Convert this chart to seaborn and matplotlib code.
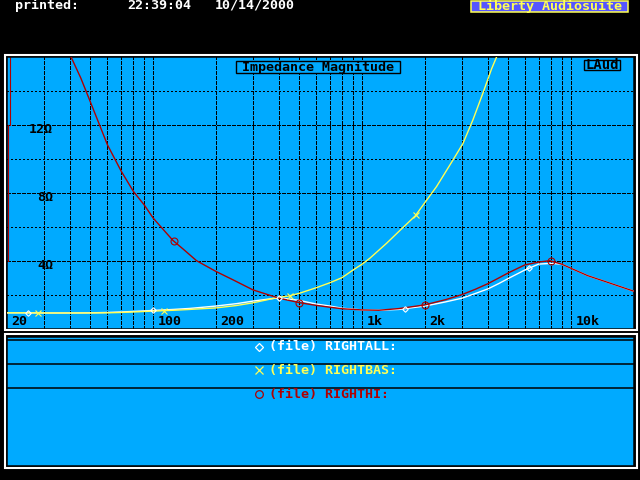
import numpy as np
import pandas as pd
import matplotlib
matplotlib.use('Agg')
import matplotlib.pyplot as plt
from matplotlib.patches import Rectangle
from matplotlib.ticker import NullLocator
import seaborn as sns

# impedance curves (Hz, ohms)
rightall_hz = [20, 25, 30, 40, 50, 60, 70, 80, 100, 125, 150, 200, 250, 300, 400, 500,
               600, 700, 800, 1000, 1200, 1500, 2000, 2500, 3000, 3500, 4000, 4500, 5000,
               6000, 7000, 8000, 9000, 10000, 12000, 15000, 20000]
rightall_ohm = [0.93, 0.93, 0.92, 0.92, 0.93, 0.95, 0.98, 1.01, 1.07, 1.13, 1.19, 1.33, 1.47, 1.62, 1.82, 1.66,
                1.45, 1.33, 1.2, 1.1, 1.08, 1.13, 1.33, 1.57, 1.79, 2.08, 2.34, 2.65, 2.95,
                3.45, 3.8, 3.84, 3.8, 3.55, 3.12, 2.72, 2.2]

rightbas_hz = [20, 25, 30, 40, 50, 60, 70, 80, 100, 125, 150, 200, 250, 300, 400, 445, 500,
               600, 700, 800, 906, 1000, 1089, 1309, 1500, 1794, 2000, 2270, 2725, 3034,
               3389, 3790, 4161, 4410, 4600]
rightbas_ohm = [0.93, 0.93, 0.92, 0.92, 0.92, 0.93, 0.95, 0.98, 1.03, 1.08, 1.13, 1.22, 1.36, 1.52, 1.85, 1.92, 2.08,
                2.4, 2.7, 3.0, 3.46, 3.8, 4.15, 5.03, 5.73, 6.64, 7.44, 8.37, 9.95, 10.9,
                12.3, 13.9, 15.3, 16.04, 16.6]

righthi_hz = [40.4, 45, 49.8, 60.3, 70, 80.3, 90.4, 100, 124, 140, 161, 200, 241, 300, 400, 500,
              600, 700, 800, 1000, 1200, 1500, 1980, 2500, 3000, 3500, 4000, 4500, 5000,
              6000, 7000, 7900, 9000, 10000, 12000, 15000, 20000]
righthi_ohm = [16.0, 14.75, 13.4, 10.83, 9.3, 8.08, 7.29, 6.5, 5.2, 4.65, 4.0, 3.36, 2.87, 2.28, 1.79, 1.53,
               1.37, 1.26, 1.17, 1.1, 1.08, 1.18, 1.39, 1.7, 2.0, 2.33, 2.65, 2.98, 3.28,
               3.75, 3.92, 4.0, 3.8, 3.55, 3.12, 2.72, 2.2]

series_names = ['RIGHTALL', 'RIGHTBAS', 'RIGHTHI']
series_colors = ['#FFFFFF', '#FFFF55', '#B00000']
series_markers = ['D', 'x', 'o']
marker_size = [2.8, 5, 5]
marker_hz = [[25, 100, 400, 1600, 6300], [28, 112, 450, 1800], [125, 500, 2000, 8000]]

x_tick_hz = [20, 100, 200, 1000, 2000, 10000]
x_tick_labels = ['20', '100', '200', '1k', '2k', '10k']
y_tick_ohm = [4, 8, 12]
y_tick_labels = ['4Ω', '8Ω', '12Ω']

BLUE = '#00AAFF'
FONT = 'DejaVu Sans Mono'
FS = 9.6
plt.rcParams['lines.scale_dashes'] = False

W, H = 640, 480
def fx(px):
    return px / W
def fy(py):
    return 1 - py / H

fig = plt.figure(figsize=(6.4, 4.8), dpi=100, facecolor='black')

# ---- main plot ----
ax = fig.add_axes([fx(7.3), fy(328.6), (634 - 7.3) / W, (328.6 - 57) / H])
ax.set_facecolor(BLUE)
ax.set_xscale('log')

vgrid = [m * d for d in (10, 100, 1000) for m in range(3 if d == 10 else 2, 10)] + [100, 1000, 10000]
for f in vgrid:
    ax.axvline(f, color='black', lw=0.9, dashes=(2.2, 1.4), antialiased=False, zorder=1)
for v in [2, 6, 10, 14]:
    ax.axhline(v, color='black', lw=0.9, dashes=(0.75, 1.6), antialiased=False, zorder=1)
for v in [4, 8, 12]:
    ax.axhline(v, color='black', lw=0.9, dashes=(2.2, 0.75), antialiased=False, zorder=1)

all_hz = [rightall_hz, rightbas_hz, righthi_hz]
all_ohm = [rightall_ohm, rightbas_ohm, righthi_ohm]
df = pd.concat([pd.DataFrame({'freq': h, 'ohm': o, 'series': n})
                for h, o, n in zip(all_hz, all_ohm, series_names)], ignore_index=True)
sns.lineplot(data=df, x='freq', y='ohm', hue='series', hue_order=series_names,
             palette=dict(zip(series_names, series_colors)), estimator=None,
             linewidth=1.0, legend=False, ax=ax, zorder=3)

for h, o, col, mk, ms, mf in zip(all_hz, all_ohm, series_colors, series_markers, marker_size, marker_hz):
    my = np.interp(np.log10(mf), np.log10(h), o)
    ax.plot(mf, my, ls='none', marker=mk, ms=ms, mfc='none', mec=col, mew=0.8, zorder=4)

# odd red bar on the left edge of the screen
ax.axvline(20.5, ymin=0.75, ymax=1.0, color='#B00000', lw=0.8, zorder=2)
ax.axvline(20.15, ymin=0.25, ymax=0.75, color='#B00000', lw=0.8, zorder=2)

ax.set_xlim(20, 20000)
ax.set_ylim(0, 16)
ax.xaxis.set_minor_locator(NullLocator())
ax.set_xticks([])
ax.set_yticks([])
ax.set_xlabel('')
ax.set_ylabel('')
for s in ax.spines.values():
    s.set_color('black')
    s.set_linewidth(1.1)

for f, lab in zip(x_tick_hz, x_tick_labels):
    ax.annotate(lab, xy=(f, 0), xytext=(3.2, 5.2), textcoords='offset points',
                ha='left', va='center', fontsize=FS, fontweight='bold', family=FONT,
                color='black', zorder=5)
for v, lab in zip(y_tick_ohm, y_tick_labels):
    ax.annotate(lab, xy=(0.073, v), xycoords=ax.get_yaxis_transform(),
                xytext=(0, -3.2), textcoords='offset points',
                ha='right', va='center', fontsize=FS, fontweight='bold', family=FONT,
                color='black', zorder=5)

# title boxes inside the plot (filled, they hide the grid)
fig.add_artist(Rectangle((fx(236), fy(72.7)), (400.5 - 236) / W, (72.7 - 61.3) / H,
                         transform=fig.transFigure, fc=BLUE, ec='black', lw=1.0))
fig.text(fx(318.3), fy(67.2), 'Impedance Magnitude', ha='center', va='center',
         fontsize=FS, fontweight='bold', family=FONT, color='black')
fig.add_artist(Rectangle((fx(584), fy(70.3)), 36 / W, 10.3 / H,
                         transform=fig.transFigure, fc=BLUE, ec='black', lw=1.0))
fig.text(fx(602), fy(65.3), 'LAud', ha='center', va='center',
         fontsize=FS + 0.4, fontweight='bold', family=FONT, color='black')

# ---- legend panel ----
lg = fig.add_axes([fx(7.3), fy(465.5), (634 - 7.3) / W, (465.5 - 337) / H])
lg.set_facecolor(BLUE)
lg.set_xlim(0, W)
lg.set_ylim(465.5, 337)
lg.set_xticks([])
lg.set_yticks([])
for s in lg.spines.values():
    s.set_color('black')
    s.set_linewidth(1.1)
for yy in [340.3, 364.3, 388.3]:
    lg.axhline(yy, color='black', lw=1.1)
for yy, name, col, mk in zip([346.7, 370.3, 394.3], series_names, series_colors, series_markers):
    lg.plot([257.5], [yy], ls='none', marker=mk, ms=3.7 if mk == 'D' else 5.5,
            mfc='none', mec=col, mew=0.9)
    lg.text(267.7, yy, f'(file) {name}:', ha='left', va='center', fontsize=FS,
            fontweight='bold', family=FONT, color=col)

# white outer frames
fig.add_artist(Rectangle((fx(5), fy(330.2)), 632 / W, (330.2 - 55) / H,
                         transform=fig.transFigure, fill=False, ec='white', lw=1.5))
fig.add_artist(Rectangle((fx(5), fy(467.5)), 632 / W, (467.5 - 334) / H,
                         transform=fig.transFigure, fill=False, ec='white', lw=1.5))

# ---- header ----
for x0, txt in [(15.5, 'printed:'), (127, '22:39:04'), (215, '10/14/2000')]:
    fig.text(fx(x0), fy(5.5), txt, ha='left', va='center', fontsize=FS,
             fontweight='bold', family=FONT, color='white')
fig.add_artist(Rectangle((fx(471), fy(11.7)), (627.7 - 471) / W, 11.2 / H,
                         transform=fig.transFigure, fc='#5555FF', ec='#FFFF55', lw=1.1))
fig.text(fx(549.5), fy(6.2), 'Liberty Audiosuite', ha='center', va='center',
         fontsize=FS, fontweight='bold', family=FONT, color='#FFFF55')

fig.savefig('out.png', dpi=100, facecolor='black')
